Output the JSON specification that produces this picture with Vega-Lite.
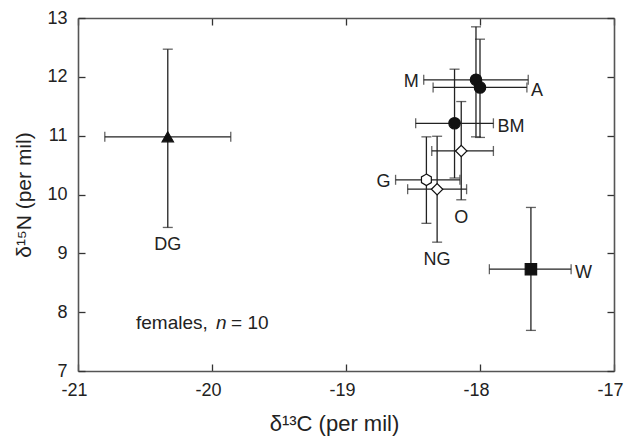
{
  "$schema": "https://vega.github.io/schema/vega-lite/v6.json",
  "width": 536,
  "height": 353,
  "autosize": "none",
  "padding": {"left": 78, "top": 18, "right": 12, "bottom": 67},
  "background": "white",
  "config": {
    "view": {"stroke": null},
    "font": "Liberation Sans",
    "axis": {
      "grid": false,
      "labelFont": "Liberation Sans",
      "labelFontSize": 18,
      "labelColor": "#222",
      "labelFlush": false,
      "titleFont": "Liberation Sans",
      "titleFontWeight": "normal",
      "titleColor": "#222",
      "domainColor": "#555",
      "domainWidth": 1.6,
      "ticks": true,
      "tickColor": "#333",
      "tickWidth": 1.3,
      "tickSize": -7
    }
  },
  "datasets": {
    "pts": [
      {"group": "M", "x": -18.03, "y": 11.95, "xlo": -18.42, "xhi": -17.64, "ylo": 10.98, "yhi": 12.85},
      {"group": "A", "x": -18.0, "y": 11.82, "xlo": -18.35, "xhi": -17.65, "ylo": 10.97, "yhi": 12.64},
      {"group": "BM", "x": -18.19, "y": 11.21, "xlo": -18.48, "xhi": -17.9, "ylo": 10.28, "yhi": 12.13},
      {"group": "O", "x": -18.14, "y": 10.74, "xlo": -18.36, "xhi": -17.9, "ylo": 9.91, "yhi": 11.58},
      {"group": "G", "x": -18.4, "y": 10.25, "xlo": -18.63, "xhi": -18.15, "ylo": 9.51, "yhi": 10.98},
      {"group": "NG", "x": -18.32, "y": 10.09, "xlo": -18.54, "xhi": -18.1, "ylo": 9.19, "yhi": 10.99},
      {"group": "DG", "x": -20.33, "y": 10.98, "xlo": -20.8, "xhi": -19.86, "ylo": 9.44, "yhi": 12.47},
      {"group": "W", "x": -17.62, "y": 8.73, "xlo": -17.93, "xhi": -17.32, "ylo": 7.69, "yhi": 9.78}
    ],
    "note": [
      {"x": -20.567, "y": 7.82, "a": "females,", "b": "n", "c": "= 10"}
    ]
  },
  "resolve": {"axis": {"x": "independent", "y": "independent"}},
  "layer": [
    {
      "data": {"name": "pts"},
      "mark": {"type": "rule", "color": "#222", "strokeWidth": 1.3},
      "encoding": {
        "x": {"field": "x", "type": "quantitative", "scale": {"domain": [-21, -17], "nice": false, "zero": false},
          "axis": {"orient": "bottom", "title": "δ¹³C (per mil)", "titleFontSize": 22, "values": [-21, -20, -19, -18, -17], "labelExpr": "replace(datum.label, '−', '-')", "labelPadding": 17, "labelOffset": -4, "titlePadding": 14, "titleX": 256}},
        "y": {"field": "ylo", "type": "quantitative", "scale": {"domain": [7, 13], "nice": false, "zero": false},
          "axis": {"orient": "left", "title": "δ¹⁵N (per mil)", "titleFontSize": 21, "values": [7, 8, 9, 10, 11, 12, 13], "labelPadding": 18, "titlePadding": 12}},
        "y2": {"field": "yhi"}
      }
    },
    {
      "data": {"name": "pts"},
      "mark": {"type": "rule", "color": "#222", "strokeWidth": 1.3},
      "encoding": {
        "x": {"field": "xlo", "type": "quantitative", "scale": {"domain": [-21, -17], "nice": false, "zero": false},
          "axis": {"orient": "top", "title": null, "labels": false, "values": [-21, -20, -19, -18, -17]}},
        "x2": {"field": "xhi"},
        "y": {"field": "y", "type": "quantitative", "scale": {"domain": [7, 13], "nice": false, "zero": false},
          "axis": {"orient": "right", "title": null, "labels": false, "values": [7, 8, 9, 10, 11, 12, 13]}}
      }
    },
    {
      "data": {"name": "pts"},
      "mark": {"type": "tick", "orient": "horizontal", "color": "#222", "thickness": 1.3, "size": 10},
      "encoding": {
        "x": {"field": "x", "type": "quantitative", "axis": null},
        "y": {"field": "ylo", "type": "quantitative", "axis": null}
      }
    },
    {
      "data": {"name": "pts"},
      "mark": {"type": "tick", "orient": "horizontal", "color": "#222", "thickness": 1.3, "size": 10},
      "encoding": {
        "x": {"field": "x", "type": "quantitative", "axis": null},
        "y": {"field": "yhi", "type": "quantitative", "axis": null}
      }
    },
    {
      "data": {"name": "pts"},
      "mark": {"type": "tick", "orient": "vertical", "color": "#222", "thickness": 1.3, "size": 10},
      "encoding": {
        "x": {"field": "xlo", "type": "quantitative", "axis": null},
        "y": {"field": "y", "type": "quantitative", "axis": null}
      }
    },
    {
      "data": {"name": "pts"},
      "mark": {"type": "tick", "orient": "vertical", "color": "#222", "thickness": 1.3, "size": 10},
      "encoding": {
        "x": {"field": "xhi", "type": "quantitative", "axis": null},
        "y": {"field": "y", "type": "quantitative", "axis": null}
      }
    },
    {
      "data": {"name": "pts"},
      "mark": {"type": "point", "filled": true, "opacity": 1, "stroke": "#111", "strokeWidth": 1.2},
      "encoding": {
        "x": {"field": "x", "type": "quantitative", "axis": null},
        "y": {"field": "y", "type": "quantitative", "axis": null},
        "shape": {"field": "group", "type": "nominal", "legend": null,
          "scale": {"domain": ["M", "A", "BM", "O", "G", "NG", "DG", "W"],
            "range": ["circle", "circle", "circle", "diamond", "M0,-1L0.866,-0.5L0.866,0.5L0,1L-0.866,0.5L-0.866,-0.5Z", "diamond", "triangle-up", "square"]}},
        "fill": {"field": "group", "type": "nominal", "legend": null,
          "scale": {"domain": ["M", "A", "BM", "O", "G", "NG", "DG", "W"],
            "range": ["#111", "#111", "#111", "#ffffff", "#ffffff", "#ffffff", "#111", "#111"]}},
        "size": {"field": "group", "type": "nominal", "legend": null,
          "scale": {"domain": ["M", "A", "BM", "O", "G", "NG", "DG", "W"],
            "range": [130, 130, 130, 250, 210, 250, 230, 160]}}
      }
    },
    {
      "data": {"name": "pts"},
      "transform": [{"filter": "indexof(['M','G'], datum.group) >= 0"}],
      "mark": {"type": "text", "align": "right", "baseline": "middle", "dx": -5, "dy": 2, "fontSize": 18, "color": "#222", "font": "Liberation Sans"},
      "encoding": {
        "x": {"field": "xlo", "type": "quantitative", "axis": null},
        "y": {"field": "y", "type": "quantitative", "axis": null},
        "text": {"field": "group"}
      }
    },
    {
      "data": {"name": "pts"},
      "transform": [{"filter": "indexof(['A','BM','W'], datum.group) >= 0"}],
      "mark": {"type": "text", "align": "left", "baseline": "middle", "dx": 4, "dy": 4, "fontSize": 18, "color": "#222", "font": "Liberation Sans"},
      "encoding": {
        "x": {"field": "xhi", "type": "quantitative", "axis": null},
        "y": {"field": "y", "type": "quantitative", "axis": null},
        "text": {"field": "group"}
      }
    },
    {
      "data": {"name": "pts"},
      "transform": [{"filter": "indexof(['O','NG','DG'], datum.group) >= 0"}],
      "mark": {"type": "text", "align": "center", "baseline": "top", "dy": 9, "fontSize": 18, "color": "#222", "font": "Liberation Sans"},
      "encoding": {
        "x": {"field": "x", "type": "quantitative", "axis": null},
        "y": {"field": "ylo", "type": "quantitative", "axis": null},
        "text": {"field": "group"}
      }
    },
    {
      "data": {"name": "note"},
      "mark": {"type": "text", "align": "left", "baseline": "middle", "fontSize": 19, "color": "#222", "font": "Liberation Sans"},
      "encoding": {
        "x": {"field": "x", "type": "quantitative", "axis": null},
        "y": {"field": "y", "type": "quantitative", "axis": null},
        "text": {"field": "a"}
      }
    },
    {
      "data": {"name": "note"},
      "mark": {"type": "text", "align": "left", "baseline": "middle", "dx": 80, "fontSize": 19, "fontStyle": "italic", "color": "#222", "font": "Liberation Sans"},
      "encoding": {
        "x": {"field": "x", "type": "quantitative", "axis": null},
        "y": {"field": "y", "type": "quantitative", "axis": null},
        "text": {"field": "b"}
      }
    },
    {
      "data": {"name": "note"},
      "mark": {"type": "text", "align": "left", "baseline": "middle", "dx": 95, "fontSize": 19, "color": "#222", "font": "Liberation Sans"},
      "encoding": {
        "x": {"field": "x", "type": "quantitative", "axis": null},
        "y": {"field": "y", "type": "quantitative", "axis": null},
        "text": {"field": "c"}
      }
    }
  ]
}
